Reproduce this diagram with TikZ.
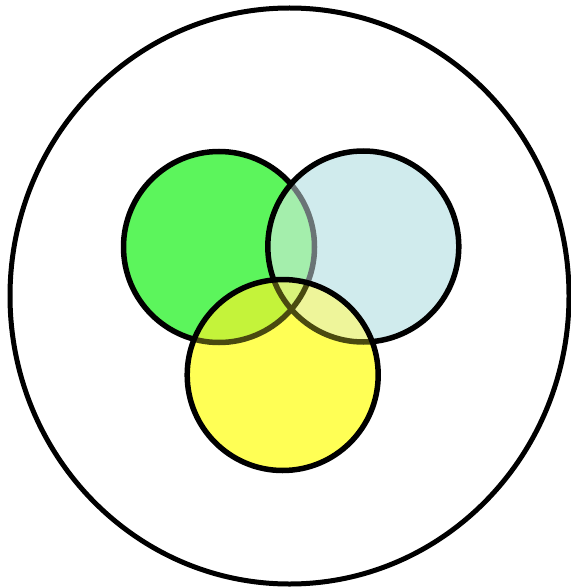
\documentclass[tikz,border=0pt]{standalone}
\begin{document}
\begin{tikzpicture}[x=1pt,y=-1pt,
  setc/.style={circle,minimum size=191pt,inner sep=0pt,line width=5.5pt},
  outer/.style={draw=black,line width=5pt}]
\useasboundingbox (0,0) rectangle (570,588);
\definecolor{gfill}{HTML}{5CF55C}
\definecolor{bfill}{HTML}{D0EBED}
\definecolor{yfill}{HTML}{FFFF55}
\definecolor{gbfill}{HTML}{A4EEAC}
\definecolor{gyfill}{HTML}{C4F33A}
\definecolor{byfill}{HTML}{EEF59A}
\definecolor{gbyfill}{HTML}{D8F27A}
\definecolor{gline}{HTML}{6A7476}
\definecolor{yline}{HTML}{4A4A10}
\draw[outer] (289.5,296) ellipse [x radius=279.5, y radius=288];
% green set
\node[setc,draw=black,fill=gfill] (g) at (219,247) {};
% blue set
\node[setc,fill=bfill] (b) at (363.3,246.5) {};
\begin{scope}
  \clip (b.center) circle (95.5pt);
  \fill[gbfill] (g.center) circle (95.5pt);
  \draw[gline,line width=5.5pt] (g.center) circle (95.5pt);
\end{scope}
\draw[black,line width=5.5pt] (b.center) circle (95.5pt);
% yellow set
\node[setc,fill=yfill] (y) at (282.7,375) {};
\begin{scope}
  \clip (y.center) circle (95.5pt);
  \fill[gyfill] (g.center) circle (95.5pt);
  \fill[byfill] (b.center) circle (95.5pt);
  \begin{scope}
    \clip (g.center) circle (95.5pt);
    \fill[gbyfill] (b.center) circle (95.5pt);
  \end{scope}
  \draw[yline,line width=5.5pt] (g.center) circle (95.5pt);
  \draw[yline,line width=5.5pt] (b.center) circle (95.5pt);
\end{scope}
\draw[black,line width=5.5pt] (y.center) circle (95.5pt);
\end{tikzpicture}
\end{document}
